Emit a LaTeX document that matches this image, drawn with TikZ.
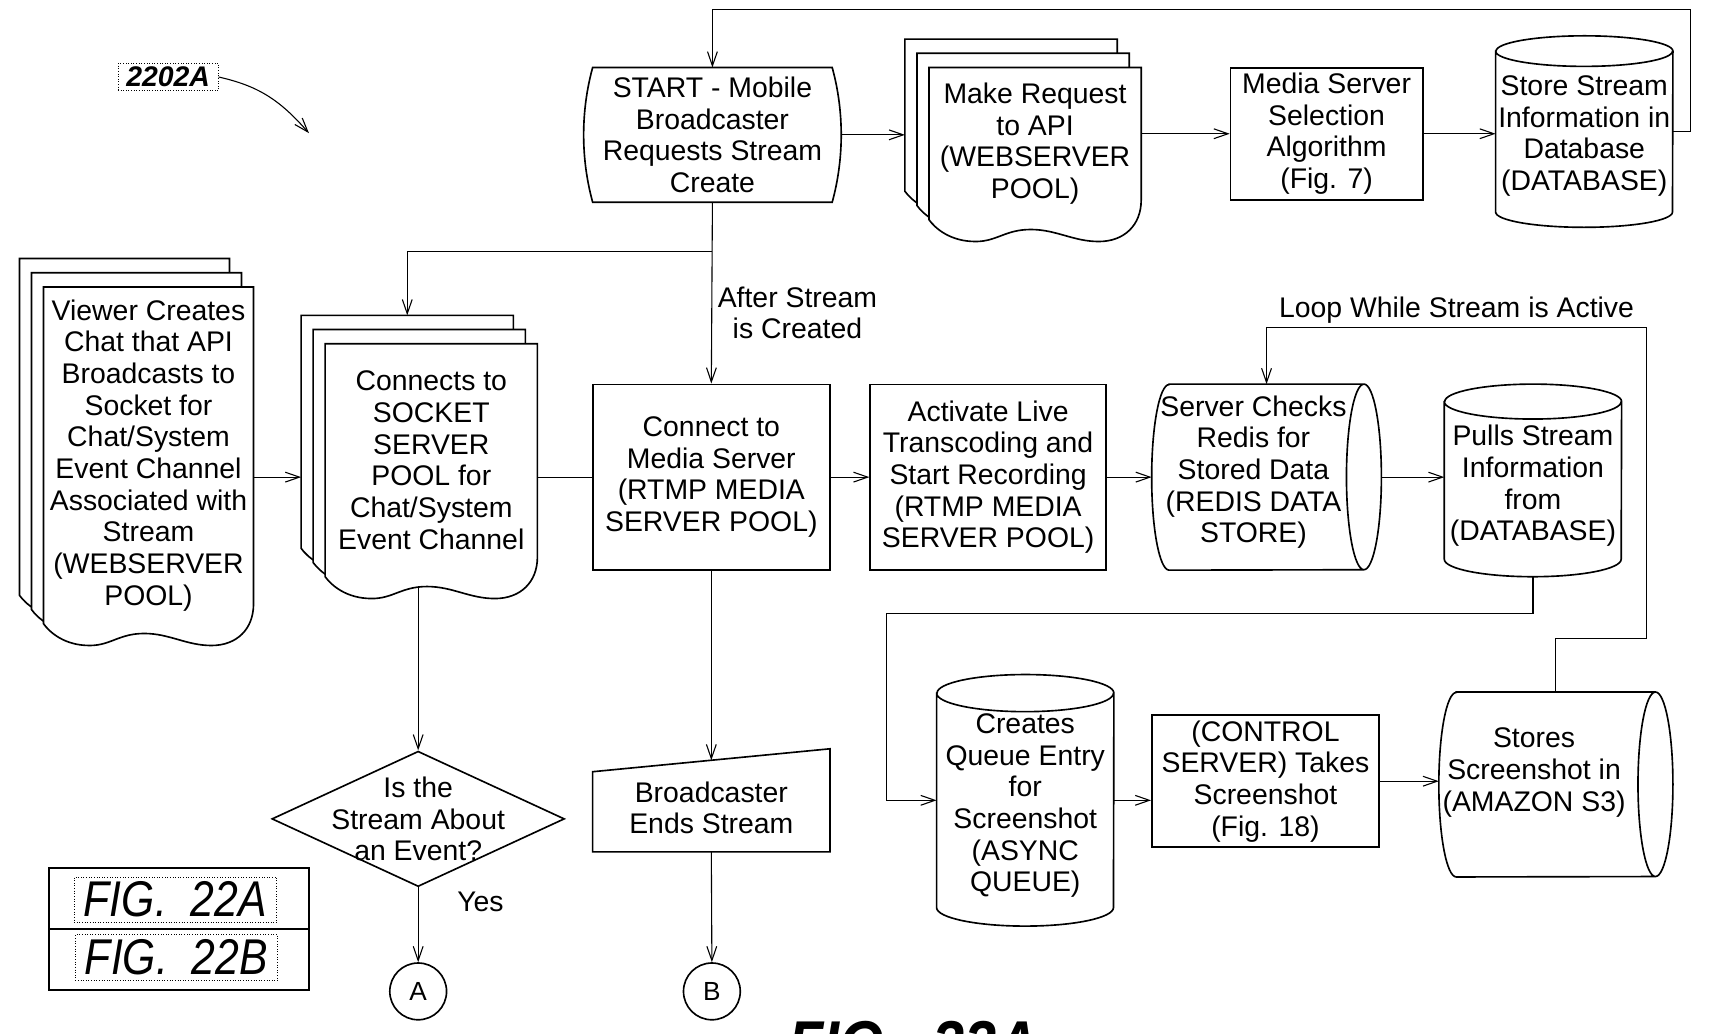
\documentclass[tikz,border=0pt]{standalone}
\usepackage{fontspec}
\setmainfont{Liberation Sans}
\newfontfamily\figfont[FakeStretch=0.85]{Liberation Sans}
\usepackage{tikz}
\usetikzlibrary{shapes.geometric, arrows.meta, positioning, calc, backgrounds}

% document with a wavy foot over the box of node #1, moved by (#2pt,#3pt)
\newcommand{\docshape}[3]{%
  \draw[shp] let \p1=(#1.north west), \p2=(#1.south east), \n1={\x2-\x1} in
    ({\x1+(#2)},{\y2+(#3)}) -- ({\x1+(#2)},{\y1+(#3)}) -- ({\x2+(#2)},{\y1+(#3)})
    -- ({\x2+(#2)},{\y2+(#3)+18})
    .. controls ({\x2+(#2)},{\y2+(#3)-5}) and ({\x2+(#2)-0.08*\n1},{\y2+(#3)-20}) .. ({\x2+(#2)-0.2*\n1},{\y2+(#3)-20})
    .. controls ({\x2+(#2)-0.32*\n1},{\y2+(#3)-20}) and ({\x1+(#2)+0.6*\n1},{\y2+(#3)-9}) .. ({\x1+(#2)+0.48*\n1},{\y2+(#3)-9})
    .. controls ({\x1+(#2)+0.36*\n1},{\y2+(#3)-9}) and ({\x1+(#2)+0.32*\n1},{\y2+(#3)-20}) .. ({\x1+(#2)+0.22*\n1},{\y2+(#3)-20})
    .. controls ({\x1+(#2)+0.1*\n1},{\y2+(#3)-20}) and ({\x1+(#2)+0.03*\n1},{\y2+(#3)-8}) .. ({\x1+(#2)},{\y2+(#3)})
    -- cycle;}
\newcommand{\stackdoc}[1]{\docshape{#1}{-22}{26}\docshape{#1}{-11}{13}\docshape{#1}{0}{0}}
% standing cylinder: node, x radius, y radius of the ends
\newcommand{\dbshape}[3]{%
  \draw[shp] let \p1=(#1.north west), \p2=(#1.south east) in
    (\x1,{\y1-#3}) -- (\x1,{\y2+#3})
    arc[start angle=180, end angle=360, x radius=#2pt, y radius=#3pt]
    -- (\x2,{\y1-#3})
    arc[start angle=0, end angle=180, x radius=#2pt, y radius=#3pt] -- cycle
    (\x1,{\y1-#3}) arc[start angle=180, end angle=360, x radius=#2pt, y radius=#3pt];}
% lying cylinder: node, x radius, y radius of the ends
\newcommand{\drumshape}[3]{%
  \draw[shp] let \p1=(#1.north west), \p2=(#1.south east) in
    ({\x1+#2},\y1) -- ({\x2-#2},\y1)
    arc[start angle=90, end angle=-90, x radius=#2pt, y radius=#3pt]
    -- ({\x1+#2},\y2)
    arc[start angle=270, end angle=90, x radius=#2pt, y radius=#3pt] -- cycle
    ({\x2-#2},\y1) arc[start angle=90, end angle=270, x radius=#2pt, y radius=#3pt];}

\begin{document}
\begin{tikzpicture}[x=1pt, y=-1pt,
    font=\fontsize{26}{29}\selectfont,
    >={Straight Barb[length=13pt, width=9pt]},
    v/.style={draw, line width=1.5pt, align=center, inner sep=0pt},
    tx/.style={align=center, inner sep=0pt},
    shp/.style={draw, line width=1.5pt, fill=white},
    e/.style={line width=1pt, ->},
    el/.style={line width=1pt}
  ]
  \useasboundingbox (0,0) rectangle (1568,947);
  \clip (0,0) rectangle (1568,947);

  % top row
  \node[draw, dotted, minimum width=92pt, minimum height=25pt, inner sep=0pt,
        font=\fontsize{26}{29}\selectfont\itshape\bfseries] (ref) at (154,70.5) {2202A};
  \node[tx, minimum width=235pt, minimum height=123pt] (start) at (652.5,123.5)
    {START - Mobile\\Broadcaster\\Requests Stream\\Create};
  \node[tx, minimum width=194pt, minimum height=139pt] (makereq) at (948,131.5)
    {Make Request\\to API\\(WEBSERVER\\POOL)};
  \node[v, minimum width=176pt, minimum height=121pt] (msel) at (1215,122.5)
    {Media Server\\Selection\\Algorithm\\(Fig. 7)};
  \node[tx, minimum width=162pt, minimum height=175pt,
        label={[tx, yshift=-4pt]center:Store Stream\\Information in\\Database\\(DATABASE)}] (storedb) at (1451,120.5) {};

  % middle row
  \node[tx, minimum width=192pt, minimum height=308pt] (viewer) at (136,417)
    {Viewer Creates\\Chat that API\\Broadcasts to\\Socket for\\Chat/System\\Event Channel\\Associated with\\Stream\\(WEBSERVER\\POOL)};
  \node[tx, minimum width=194pt, minimum height=213pt] (socket) at (395,421.5)
    {Connects to\\SOCKET\\SERVER\\POOL for\\Chat/System\\Event Channel};
  \node[v, minimum width=217pt, minimum height=170pt] (connmedia) at (651.5,437)
    {Connect to\\Media Server\\(RTMP MEDIA\\SERVER POOL)};
  \node[v, minimum width=216pt, minimum height=170pt] (activate) at (905,437)
    {Activate Live\\Transcoding and\\Start Recording\\(RTMP MEDIA\\SERVER POOL)};
  \node[tx, minimum width=210pt, minimum height=170pt,
        label={[tx, xshift=-12pt, yshift=4.5pt]center:Server Checks\\Redis for\\Stored Data\\(REDIS DATA\\STORE)}] (redis) at (1160,437) {};
  \node[tx, minimum width=162pt, minimum height=176pt,
        label={[tx, yshift=-5pt]center:Pulls Stream\\Information\\from\\(DATABASE)}] (pulls) at (1404,440) {};

  % bottom row
  \node[diamond, draw, line width=1.5pt, minimum width=268pt, minimum height=124pt, inner sep=0pt,
        label={[tx]center:Is the\\Stream About\\an Event?}] (event) at (383,750) {};
  \node[tx, minimum width=217pt, minimum height=80pt] (ends) at (651.5,740) {Broadcaster\\Ends Stream};
  \node[circle, draw, line width=1.5pt, minimum size=52pt, inner sep=0pt, font=\fontsize{24}{24}\selectfont] (A) at (383,908) {A};
  \node[circle, draw, line width=1.5pt, minimum size=52pt, inner sep=0pt, font=\fontsize{24}{24}\selectfont] (B) at (652,908) {B};
  \node[tx, minimum width=162pt, minimum height=230pt,
        label={[tx, yshift=-5pt]center:Creates\\Queue Entry\\for\\Screenshot\\(ASYNC\\QUEUE)}] (queue) at (939,733) {};
  \node[v, minimum width=208pt, minimum height=121pt] (control) at (1159,715.5)
    {(CONTROL\\SERVER) Takes\\Screenshot\\(Fig. 18)};
  \node[tx, minimum width=214pt, minimum height=169pt,
        label={[tx, xshift=-20pt, yshift=11pt]center:Stores\\Screenshot in\\(AMAZON S3)}] (s3) at (1425,718.5) {};

  % sheet key and caption
  \node[draw, line width=1.5pt, minimum width=238pt, minimum height=112pt] (figbox) at (164,851) {};
  \draw[line width=1.5pt] (figbox.west) -- (figbox.east);
  \node[draw, dotted, minimum width=185pt, minimum height=42pt, inner sep=0pt,
        font=\figfont\itshape\fontsize{46}{46}\selectfont] (figa) at (160.5,824) {FIG.~~22A};
  \node[draw, dotted, minimum width=185pt, minimum height=42pt, inner sep=0pt,
        font=\figfont\itshape\fontsize{46}{46}\selectfont] (figb) at (161.5,877) {FIG.~~22B};
  \node[anchor=base west, inner sep=0pt, font=\figfont\itshape\bfseries\fontsize{62}{62}\selectfont] (caption) at (722,979) {FIG.~~22A};

  % outlines
  \begin{scope}[on background layer]
    \fill[white] (0,0) rectangle (1568,947);
    \draw[shp] ([xshift=8pt]start.north west) -- ([xshift=-8pt]start.north east)
      .. controls +(11,40) and +(11,-40) .. ([xshift=-8pt]start.south east)
      -- ([xshift=8pt]start.south west)
      .. controls +(-11,-40) and +(-11,40) .. ([xshift=8pt]start.north west) -- cycle;
    \stackdoc{makereq}
    \dbshape{storedb}{81}{14}
    \stackdoc{viewer}
    \stackdoc{socket}
    \drumshape{redis}{16}{85}
    \dbshape{pulls}{81}{16}
    \dbshape{queue}{81}{17}
    \drumshape{s3}{16}{84.5}
    \draw[shp] ([yshift=-7pt]ends.north west) -- ([yshift=14pt]ends.north east)
      -- (ends.south east) -- (ends.south west) -- cycle;
  \end{scope}

  % connectors
  \coordinate (refend) at (283,122);
  \draw[e] (ref.east) .. controls +(35,8) and +(-28,-32) .. (refend);
  \coordinate (mrback) at ([xshift=-22pt]makereq.west);
  \draw[e] (start.east) -- (start.east -| mrback);
  \draw[e] (msel.west -| makereq.east) -- (msel.west);
  \draw[e] (msel.east) -- (msel.east -| storedb.west);
  \draw[e] (storedb.east) -- ++(16,0) -- ++(0,-112) -| (start.north);

  \coordinate (sockback) at ([shift={(-22pt,26pt)}]socket.north);
  \coordinate (sockleft) at ([xshift=-22pt]socket.west);
  \coordinate (sockfoot) at ([yshift=-10pt]socket.south);
  \draw[e] (start.south) -- node[tx, right=5pt, pos=0.61] {After Stream\\is Created} (connmedia.north);
  \draw[e] ($(start.south)+(0,45)$) -| (sockback);
  \draw[e] (viewer.east |- connmedia.west) -- (sockleft |- connmedia.west);
  \draw[el] (socket.east |- connmedia.west) -- (connmedia.west);
  \draw[e] (connmedia.east) -- (activate.west);
  \draw[e] (activate.east) -- (redis.west);
  \draw[e] (redis.east) -- (redis.east -| pulls.west);
  \draw[e] (s3.north) -- ++(0,-49) -- ++(83,0) -- ++(0,-285)
    -| node[pos=0.25, above] {Loop While Stream is Active} (redis.north);
  \draw[e] (pulls.south) -- ++(0,34) -| ([xshift=-46pt]queue.west) -- (queue.west);
  \draw[e] (queue.east) -- (queue.east -| control.west);
  \draw[e] (control.east) -- (control.east -| s3.west);

  \draw[e] (sockfoot -| event.north) -- (event.north);
  \draw[e] (event.south) -- node[pos=0.2, right=32pt] {Yes} (A.north);
  \draw[e] (connmedia.south) -- ([yshift=3.5pt]ends.north);
  \draw[e] (ends.south) -- (B.north);
\end{tikzpicture}
\end{document}
